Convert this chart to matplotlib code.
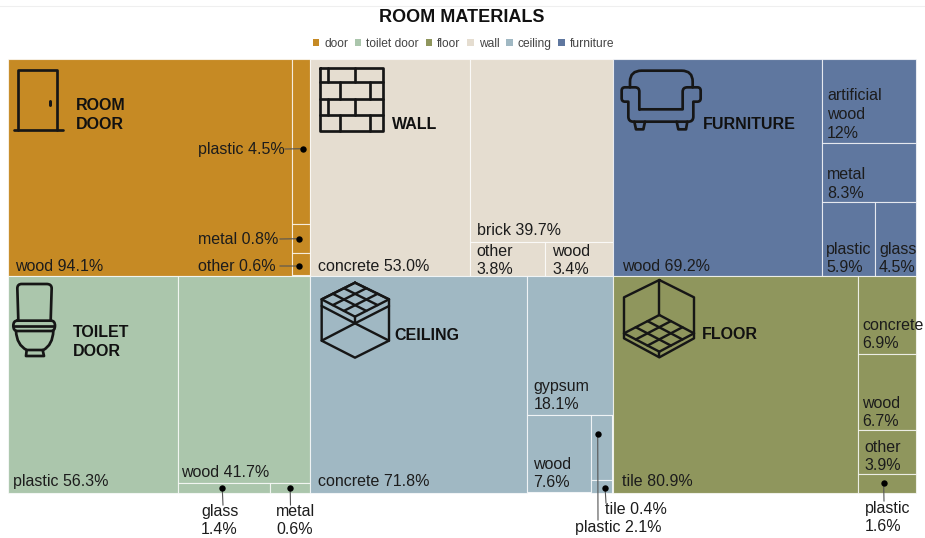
#!/usr/bin/env python3
import numpy as np
import matplotlib
matplotlib.use('Agg')
import matplotlib.pyplot as plt
from matplotlib.patches import Rectangle, Patch, PathPatch
from matplotlib.path import Path

plt.rcParams['font.family'] = ['Liberation Sans', 'DejaVu Sans']

# shares per room element, nested lists follow the treemap slicing
door_names = ['wood', 'plastic', 'metal', 'other']
door_values = [94.1, [4.5, 0.8, 0.6]]
toilet_names = ['plastic', 'wood', 'glass', 'metal']
toilet_values = [56.3, [41.7, [1.4, 0.6]]]
wall_names = ['concrete', 'brick', 'other', 'wood']
wall_values = [53.0, [39.7, [3.8, 3.4]]]
ceiling_names = ['concrete', 'gypsum', 'wood', 'plastic', 'tile']
ceiling_values = [71.8, [18.1, [7.6, [2.1, 0.4]]]]
furniture_names = ['wood', 'artificial\nwood', 'metal', 'plastic', 'glass']
furniture_values = [69.2, [12, 8.3, [5.9, 4.5]]]
floor_names = ['tile', 'concrete', 'wood', 'other', 'plastic']
floor_values = [80.9, [6.9, 6.7, 3.9, 1.6]]

legend_names = ['door', 'toilet door', 'floor', 'wall', 'ceiling', 'furniture']
legend_colors = ['#C68A24', '#ABC6AC', '#8F965D', '#E5DDD0', '#A0B8C3', '#5F779F']

# pixel layout of the 3x2 grid
XE = [7.5, 310, 612.5, 915.5]
YE = [58.5, 275.5, 492.5]
EDGE = (1, 1, 1, 0.72)
TXT = '#1c1c1c'
FS = 16 * 0.72
LW = 2.7 * 0.72

# key: (x left, y centre, multi-line) in px
LABELS = {
    ('door', 'wood'): (15, 266, 0), ('door', 'plastic'): (198, 149, 0),
    ('door', 'metal'): (198, 239, 0), ('door', 'other'): (198, 266, 0),
    ('toilet', 'plastic'): (13, 481, 0), ('toilet', 'wood'): (181, 472, 0),
    ('toilet', 'glass'): (201, 520, 1), ('toilet', 'metal'): (276, 520, 1),
    ('wall', 'concrete'): (318, 266, 0), ('wall', 'brick'): (477, 230, 0),
    ('wall', 'other'): (476, 260, 1), ('wall', 'wood'): (552, 260, 1),
    ('ceiling', 'concrete'): (318, 481, 0), ('ceiling', 'gypsum'): (533.5, 395, 1),
    ('ceiling', 'wood'): (533.5, 473, 1), ('ceiling', 'plastic'): (575, 527, 0),
    ('ceiling', 'tile'): (605, 509, 0),
    ('furniture', 'wood'): (622, 266, 0), ('furniture', 'artificial\nwood'): (827, 114, 1),
    ('furniture', 'metal'): (827, 183.5, 1), ('furniture', 'plastic'): (826, 258, 1),
    ('furniture', 'glass'): (879, 258, 1),
    ('floor', 'tile'): (622, 481, 0), ('floor', 'concrete'): (862, 334, 1),
    ('floor', 'wood'): (862, 412, 1), ('floor', 'other'): (864, 456, 1),
    ('floor', 'plastic'): (865, 517, 1),
}
# dot position as fraction of its cell, then end of the leader in px
CALLOUTS = {
    ('door', 'plastic'): (0.62, 0.545, 285, 149),
    ('door', 'metal'): (0.38, 0.5, 280, 239),
    ('door', 'other'): (0.38, 0.57, 280, 266),
    ('toilet', 'glass'): (0.48, 0.5, 223, 505),
    ('toilet', 'metal'): (0.5, 0.5, 290.5, 505),
    ('ceiling', 'plastic'): (0.3, 0.3, 598, 520),
    ('ceiling', 'tile'): (0.65, 0.65, 606, 503),
    ('floor', 'plastic'): (0.45, 0.5, 884, 501),
}


def node_total(node):
    return sum(node_total(n) for n in node) if isinstance(node, list) else node


def slice_rects(node, x, y, w, h, horizontal=True):
    # leaves come out depth first, same order as the names
    if not isinstance(node, list):
        return [(node, x, y, w, h)]
    out = []
    total = node_total(node)
    for child in node:
        frac = node_total(child) / total
        if horizontal:
            out += slice_rects(child, x, y, w * frac, h, False)
            x += w * frac
        else:
            out += slice_rects(child, x, y, w, h * frac, True)
            y += h * frac
    return out


def draw_group(ax, key, names, values, color, col, row):
    x0, y0 = XE[col], YE[row]
    w, h = XE[col + 1] - x0, YE[row + 1] - y0
    for name, (val, x, y, rw, rh) in zip(names, slice_rects(values, x0, y0, w, h)):
        ax.add_patch(Rectangle((x, y), rw, rh, facecolor=color, edgecolor=EDGE, lw=0.8))
        tx, ty, multi = LABELS[(key, name)]
        sep = '\n' if multi else ' '
        ax.text(tx, ty + 0.5, f'{name}{sep}{val}%', fontsize=FS, color=TXT, ha='left', va='center',
                zorder=5, linespacing=1.3)
        if (key, name) in CALLOUTS:
            fx, fy, ex, ey = CALLOUTS[(key, name)]
            dx, dy = x + fx * rw, y + fy * rh
            ax.plot([dx, ex], [dy, ey], color='#555555', lw=0.8, zorder=6)
            ax.plot([dx], [dy], 'o', color='black', ms=4.6, mew=0, zorder=7)


def curve(x0, y0, pts, sx=1 / 3):
    # pts are (x, y) for lines or (cx, cy, x, y) for quadratic bends, in zoomed px
    verts, codes = [], []
    for i, p in enumerate(pts):
        if len(p) == 2:
            verts.append(p)
            codes.append(Path.MOVETO if i == 0 else Path.LINETO)
        else:
            verts += [p[:2], p[2:]]
            codes += [Path.CURVE3, Path.CURVE3]
    verts = np.array(verts, dtype=float) * sx + [x0, y0]
    return Path(verts, codes)


def icon(ax, x0, y0, paths, lw=LW):
    for pts in paths:
        ax.add_patch(PathPatch(curve(x0, y0, pts), fill=False, edgecolor='#161616', lw=lw,
                               joinstyle='round', capstyle='round', zorder=4))


def rhombus_grid(a, b, c, d, n=3):
    a, b, c, d = [np.array(p, dtype=float) for p in (a, b, c, d)]
    lines = []
    for t in np.linspace(0, 1, n + 1):
        lines.append([tuple(a + (b - a) * t), tuple(d + (c - d) * t)])
        lines.append([tuple(a + (d - a) * t), tuple(b + (c - b) * t)])
    return lines


def draw_icons(ax):
    # door
    icon(ax, 0, 0, [[(54, 390), (54, 211), (171, 211), (171, 390)], [(41, 390), (190, 390)]])
    icon(ax, 0, 0, [[(151, 302), (151, 314)]], lw=3 * 0.72)
    # brick wall
    wall = [[(30, 203), (220, 203), (220, 392), (30, 392), (30, 203)]]
    for yy in (245, 297, 345):
        wall.append([(30, yy), (220, yy)])
    for xx, a, b in [(55, 203, 245), (135, 203, 245), (90, 245, 297), (180, 245, 297),
                     (55, 297, 345), (135, 297, 345), (90, 345, 392), (180, 345, 392)]:
        wall.append([(xx, a), (xx, b)])
    icon(ax, 310, 0, wall)
    # armchair
    icon(ax, 610, 50, [
        [(60, 112), (60, 95), (60, 62, 95, 62), (215, 62), (248, 62, 248, 95), (248, 112)],
        [(88, 178), (88, 125), (88, 112, 75, 112), (45, 112), (35, 112, 35, 122), (35, 145),
         (35, 155, 45, 155), (55, 155), (55, 200), (55, 215, 70, 215), (235, 215),
         (250, 215, 250, 200), (250, 155), (262, 155), (272, 155, 272, 145), (272, 122),
         (272, 112, 262, 112), (232, 112), (218, 112, 218, 125), (218, 178), (88, 178)],
        [(73, 215), (78, 238), (100, 238), (105, 215)],
        [(200, 215), (205, 238), (228, 238), (232, 215)],
    ])
    # toilet
    icon(ax, 0, 270, [
        [(55, 152), (52, 55), (52, 42, 65, 42), (140, 42), (155, 42, 155, 55), (152, 152)],
        [(52, 152), (153, 152), (165, 152, 165, 167), (165, 183, 153, 183), (52, 183),
         (40, 183, 40, 167), (40, 152, 52, 152)],
        [(42, 167), (163, 167)],
        [(48, 183), (50, 225, 80, 240), (130, 240), (158, 225, 160, 183)],
        [(80, 240), (78, 258), (132, 258), (128, 240)],
    ])
    # ceiling cube
    icon(ax, 310, 270, [
        [(135, 38), (237, 88), (237, 212), (135, 263), (35, 212), (35, 88), (135, 38)],
        [(35, 108), (135, 160), (237, 108)],
        [(35, 212), (135, 160), (237, 212)],
        [(135, 140), (135, 160)],
    ] + rhombus_grid((135, 38), (237, 88), (135, 140), (35, 88)), lw=2.4 * 0.72)
    # floor cube
    icon(ax, 610, 270, [
        [(148, 30), (252, 82), (252, 205), (148, 262), (42, 205), (42, 82), (148, 30)],
        [(148, 30), (148, 135)],
        [(148, 245), (148, 262)],
    ] + rhombus_grid((148, 135), (252, 190), (148, 245), (42, 190)), lw=2.4 * 0.72)


def main():
    fig = plt.figure(figsize=(9.25, 5.38), dpi=100)
    ax = fig.add_axes([0, 0, 1, 1])
    ax.set_xlim(0, 925)
    ax.set_ylim(538, 0)
    ax.axis('off')

    ax.plot([0, 925], [6, 6], color='#efefef', lw=0.8)
    ax.text(461.5, 17, 'ROOM MATERIALS', fontsize=18 * 0.72, fontweight='bold', color='#111111',
            ha='center', va='center')
    handles = [Patch(facecolor=c, edgecolor='none', label=n) for n, c in zip(legend_names, legend_colors)]
    fig.legend(handles=handles, loc='center', bbox_to_anchor=(463.5 / 925, 1 - 44 / 538), ncol=6,
               frameon=False, fontsize=12 * 0.72, handlelength=0.55, handleheight=0.55,
               handletextpad=0.42, columnspacing=0.55, borderpad=0, labelcolor='#444444')

    draw_group(ax, 'door', door_names, door_values, legend_colors[0], 0, 0)
    draw_group(ax, 'wall', wall_names, wall_values, legend_colors[3], 1, 0)
    draw_group(ax, 'furniture', furniture_names, furniture_values, legend_colors[5], 2, 0)
    draw_group(ax, 'toilet', toilet_names, toilet_values, legend_colors[1], 0, 1)
    draw_group(ax, 'ceiling', ceiling_names, ceiling_values, legend_colors[4], 1, 1)
    draw_group(ax, 'floor', floor_names, floor_values, legend_colors[2], 2, 1)

    draw_icons(ax)
    for x, y, label in [(76, 115, 'ROOM\nDOOR'), (392, 124.5, 'WALL'), (703, 124.5, 'FURNITURE'),
                        (73, 342, 'TOILET\nDOOR'), (394, 335.5, 'CEILING'), (702, 334.5, 'FLOOR')]:
        ax.text(x, y, label, fontsize=FS, fontweight='bold', color='#111111', ha='left', va='center',
                linespacing=1.3, zorder=5)

    fig.savefig('out.png', dpi=100)


if __name__ == '__main__':
    main()
